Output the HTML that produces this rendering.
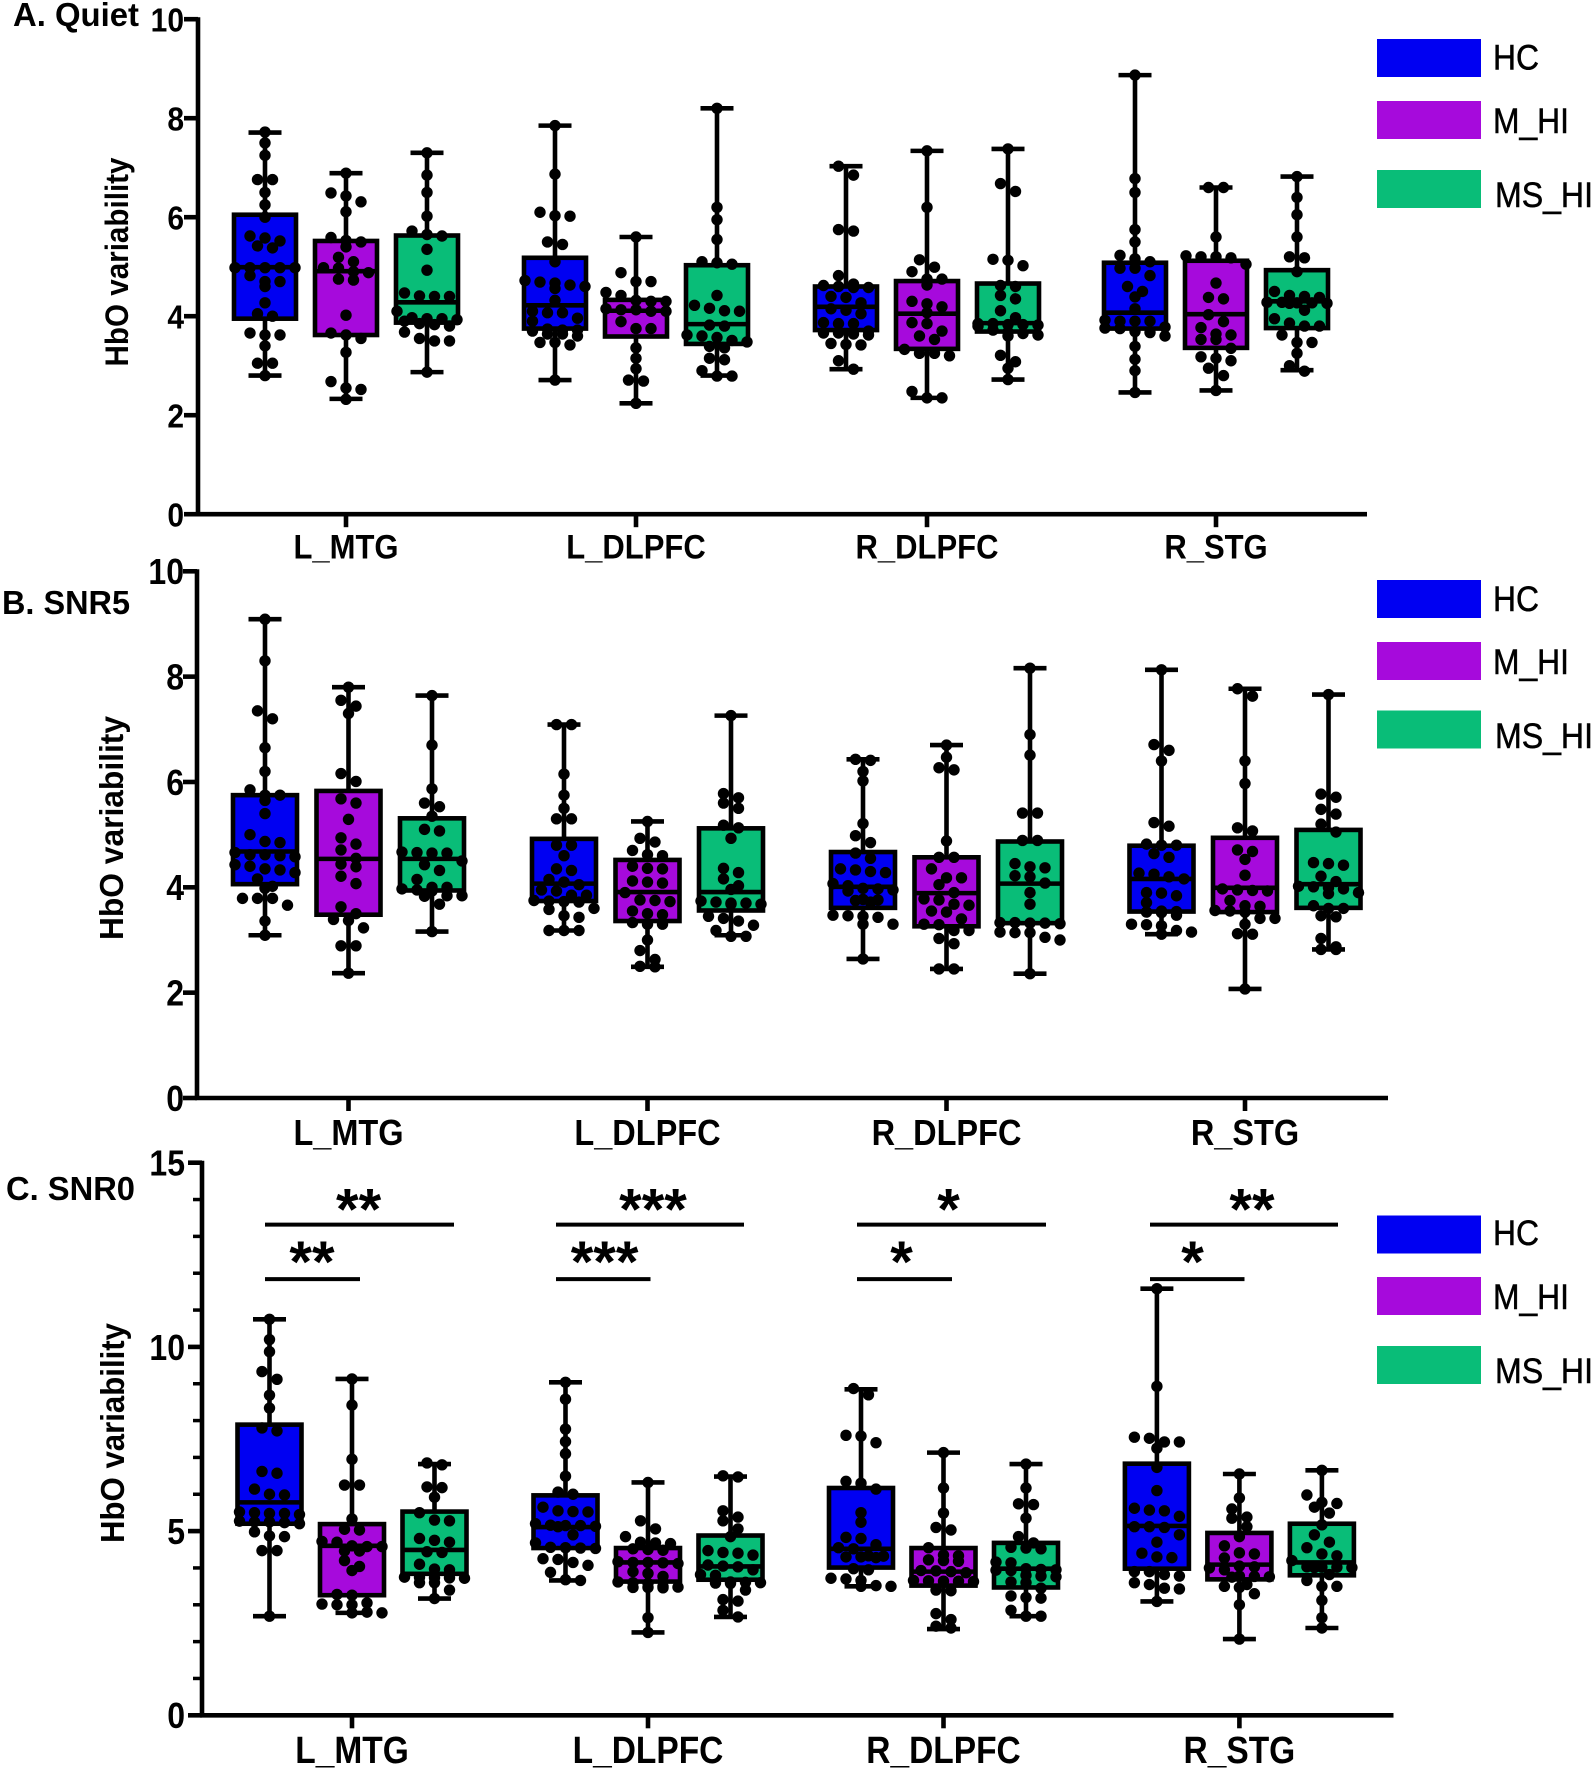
<!DOCTYPE html>
<html lang="en">
<head>
<meta charset="utf-8">
<title>HbO variability by region and hearing group</title>
<style>
html,body{margin:0;padding:0;background:#fff;}
svg{display:block;}
text{font-family:"Liberation Sans",Arial,sans-serif;fill:#000;}
.b{font-weight:700;}
</style>
</head>
<body>
<svg id="chart" xmlns="http://www.w3.org/2000/svg" width="1594" height="1772" viewBox="0 0 1594 1772">
  <rect x="0" y="0" width="1594" height="1772" fill="#fff"/>
  <text class="b" x="13" y="26" font-size="33" textLength="126" lengthAdjust="spacingAndGlyphs">A. Quiet</text>
  <text class="b" x="2" y="614" font-size="33" textLength="128" lengthAdjust="spacingAndGlyphs">B. SNR5</text>
  <text class="b" x="6" y="1200" font-size="33" textLength="129" lengthAdjust="spacingAndGlyphs">C. SNR0</text>

  <text class="b" font-size="32" text-anchor="middle" transform="translate(128 262) rotate(-90)" textLength="209" lengthAdjust="spacingAndGlyphs">HbO variability</text>
  <text class="b" font-size="33" text-anchor="middle" transform="translate(123 828) rotate(-90)" textLength="224" lengthAdjust="spacingAndGlyphs">HbO variability</text>
  <text class="b" font-size="33" text-anchor="middle" transform="translate(124 1433) rotate(-90)" textLength="220" lengthAdjust="spacingAndGlyphs">HbO variability</text>

  <g stroke="#000" stroke-width="0.5">
    <rect x="1377" y="39" width="104" height="38" fill="#0000f2" stroke="none"/>
    <text x="1493" y="69.5" font-size="35" textLength="46" lengthAdjust="spacingAndGlyphs">HC</text>
    <rect x="1377" y="101" width="104" height="38" fill="#a60adc" stroke="none"/>
    <text x="1493" y="133" font-size="35" textLength="76" lengthAdjust="spacingAndGlyphs">M_HI</text>
    <rect x="1377" y="170" width="104" height="38" fill="#09bd78" stroke="none"/>
    <text x="1495" y="207" font-size="35" textLength="98" lengthAdjust="spacingAndGlyphs">MS_HI</text>
  </g>
  <g stroke="#000" stroke-width="0.5">
    <rect x="1377" y="580" width="104" height="38" fill="#0000f2" stroke="none"/>
    <text x="1493" y="611" font-size="35" textLength="46" lengthAdjust="spacingAndGlyphs">HC</text>
    <rect x="1377" y="642" width="104" height="38" fill="#a60adc" stroke="none"/>
    <text x="1493" y="674" font-size="35" textLength="76" lengthAdjust="spacingAndGlyphs">M_HI</text>
    <rect x="1377" y="710.5" width="104" height="38" fill="#09bd78" stroke="none"/>
    <text x="1495" y="748" font-size="35" textLength="98" lengthAdjust="spacingAndGlyphs">MS_HI</text>
  </g>
  <g stroke="#000" stroke-width="0.5">
    <rect x="1377" y="1215.5" width="104" height="38" fill="#0000f2" stroke="none"/>
    <text x="1493" y="1245" font-size="35" textLength="46" lengthAdjust="spacingAndGlyphs">HC</text>
    <rect x="1377" y="1277" width="104" height="38" fill="#a60adc" stroke="none"/>
    <text x="1493" y="1309" font-size="35" textLength="76" lengthAdjust="spacingAndGlyphs">M_HI</text>
    <rect x="1377" y="1346" width="104" height="38" fill="#09bd78" stroke="none"/>
    <text x="1495" y="1383" font-size="35" textLength="98" lengthAdjust="spacingAndGlyphs">MS_HI</text>
  </g>
</svg>
<script>
const regions = ['L_MTG', 'L_DLPFC', 'R_DLPFC', 'R_STG'];
const groups = ['HC', 'M_HI', 'MS_HI'];
const groupColors = ['#0000f2', '#a60adc', '#09bd78'];

const quietTicks = [0, 2, 4, 6, 8, 10];
const quietMin = [2.80, 2.33, 2.87, 2.71, 2.24, 2.80, 2.93, 2.35, 2.72, 2.46, 2.50, 2.91];
const quietQ1 = [3.95, 3.62, 3.87, 3.75, 3.59, 3.44, 3.72, 3.34, 3.69, 3.75, 3.36, 3.76];
const quietMedian = [4.99, 4.91, 4.28, 4.22, 4.11, 3.84, 4.19, 4.05, 3.86, 4.07, 4.04, 4.30];
const quietQ3 = [6.05, 5.52, 5.63, 5.18, 4.33, 5.03, 4.60, 4.71, 4.66, 5.08, 5.12, 4.93];
const quietMax = [7.71, 6.89, 7.30, 7.85, 5.60, 8.20, 7.03, 7.34, 7.38, 8.87, 6.60, 6.82];
const quietPoints = [
  [7.72,7.5,7.25,6.76,6.76,6.5,6.25,6.0,5.62,5.58,5.52,5.42,5.38,4.98,4.98,4.98,4.98,4.98,4.82,4.7,4.7,4.6,4.27,4.05,4.0,3.66,3.62,3.62,3.4,3.05,3.05,2.8],
  [6.89,6.49,6.43,6.31,6.11,5.59,5.53,5.5,5.4,5.19,5.1,4.98,4.97,4.9,4.88,4.75,4.73,4.02,3.66,3.62,3.55,3.27,2.68,2.55,2.52,2.32],
  [7.3,6.85,6.5,6.02,5.72,5.65,5.62,5.35,4.93,4.47,4.41,4.4,4.4,4.1,3.97,3.95,3.95,3.93,3.9,3.85,3.83,3.8,3.68,3.55,3.5,3.5,2.87],
  [7.85,6.87,6.1,6.03,6.02,5.5,5.45,5.1,4.72,4.69,4.67,4.63,4.6,4.56,4.32,4.1,4.07,4.07,3.96,3.9,3.74,3.72,3.72,3.7,3.64,3.64,3.6,3.47,3.47,3.42,2.71],
  [5.6,4.88,4.7,4.7,4.48,4.42,4.32,4.3,4.3,4.15,4.13,4.13,4.1,4.1,3.89,3.75,3.75,3.36,3.15,2.94,2.71,2.69,2.24],
  [8.2,6.2,5.95,5.55,5.1,5.08,5.05,4.42,4.22,4.16,4.11,4.1,3.82,3.8,3.62,3.6,3.57,3.51,3.48,3.39,3.36,3.15,3.12,2.9,2.79,2.79],
  [7.03,6.85,5.75,5.72,4.82,4.65,4.62,4.6,4.58,4.58,4.4,4.38,4.27,4.15,4.12,4.05,3.87,3.85,3.85,3.7,3.66,3.66,3.64,3.62,3.45,3.43,3.42,3.1,2.93],
  [7.34,6.2,5.14,4.99,4.9,4.75,4.75,4.63,4.3,4.25,4.19,4.07,3.87,3.85,3.7,3.6,3.53,3.33,3.25,3.25,3.2,2.48,2.35,2.35],
  [7.38,6.68,6.52,5.15,5.13,5.02,4.62,4.6,4.42,4.35,4.11,3.97,3.85,3.85,3.83,3.83,3.82,3.8,3.72,3.68,3.65,3.62,3.6,3.21,3.08,2.95,2.72],
  [8.87,6.78,6.5,5.75,5.5,5.23,5.16,5.1,4.97,4.97,4.82,4.6,4.5,4.39,4.15,3.92,3.9,3.9,3.9,3.78,3.76,3.75,3.69,3.67,3.6,3.39,3.13,2.9,2.46],
  [6.6,6.6,5.6,5.22,5.2,5.2,5.18,5.05,4.67,4.38,4.35,4.03,3.89,3.77,3.64,3.62,3.53,3.53,3.35,3.18,3.15,3.1,2.95,2.8,2.5],
  [6.82,6.4,6.05,5.6,5.2,5.18,4.9,4.5,4.42,4.4,4.38,4.28,4.28,4.27,4.27,4.26,4.26,4.12,3.95,3.86,3.8,3.8,3.62,3.47,3.47,3.25,3.0,2.89]
];

const snr5Ticks = [0, 2, 4, 6, 8, 10];
const snr5Min = [3.09, 2.37, 3.16, 3.18, 2.49, 3.09, 2.64, 2.45, 2.36, 3.11, 2.07, 2.82];
const snr5Q1 = [4.06, 3.48, 3.94, 3.74, 3.36, 3.56, 3.61, 3.26, 3.32, 3.54, 3.53, 3.61];
const snr5Median = [4.68, 4.54, 4.54, 4.07, 3.91, 3.91, 4.01, 3.89, 4.07, 4.16, 3.99, 4.06];
const snr5Q3 = [5.75, 5.83, 5.31, 4.92, 4.52, 5.12, 4.67, 4.57, 4.87, 4.79, 4.94, 5.09];
const snr5Max = [9.09, 7.80, 7.64, 7.09, 5.25, 7.26, 6.43, 6.70, 8.16, 8.13, 7.77, 7.66];
const snr5Points = [
  [9.09,8.3,7.35,7.2,6.65,6.2,5.85,5.75,5.75,5.65,5.4,5.0,4.87,4.85,4.66,4.62,4.62,4.6,4.58,4.43,4.4,4.35,4.33,4.28,4.16,4.02,3.98,3.79,3.79,3.79,3.66,3.36,3.09],
  [7.8,7.55,7.44,7.3,6.16,6.01,5.68,5.6,5.29,4.94,4.82,4.71,4.55,4.44,4.39,4.21,4.07,3.63,3.5,3.39,3.37,3.23,2.89,2.89,2.37],
  [7.64,6.7,5.87,5.6,5.53,5.35,5.1,5.07,4.67,4.66,4.65,4.65,4.5,4.43,4.32,4.15,4.0,4.0,3.97,3.95,3.93,3.84,3.84,3.83,3.68,3.16],
  [7.09,7.09,6.15,5.75,5.5,5.3,5.3,4.8,4.8,4.6,4.35,4.32,4.15,4.1,4.05,3.95,3.93,3.85,3.85,3.75,3.74,3.73,3.72,3.6,3.58,3.46,3.43,3.18,3.18,3.18],
  [5.25,4.93,4.86,4.7,4.62,4.6,4.4,4.36,4.35,4.12,4.1,4.08,3.9,3.76,3.75,3.73,3.55,3.5,3.48,3.33,3.3,3.3,3.0,2.8,2.63,2.5,2.49],
  [7.26,5.78,5.7,5.6,5.5,5.18,5.13,4.93,4.36,4.28,4.16,4.03,3.96,3.74,3.72,3.7,3.7,3.68,3.68,3.45,3.41,3.36,3.28,3.18,3.07,3.07],
  [6.43,6.41,6.2,6.02,5.21,4.98,4.85,4.65,4.55,4.35,4.33,4.3,4.28,4.07,4.03,3.98,3.97,3.95,3.93,3.77,3.76,3.75,3.72,3.47,3.46,3.45,3.43,3.3,3.3,2.64],
  [6.7,6.47,6.27,6.23,4.88,4.57,4.57,4.35,4.18,4.18,4.05,3.9,3.78,3.76,3.68,3.66,3.55,3.53,3.4,3.3,3.29,3.18,3.18,3.03,2.93,2.45,2.45],
  [8.16,6.9,6.51,5.41,5.41,4.89,4.89,4.45,4.39,4.37,4.22,4.2,4.08,3.9,3.68,3.33,3.33,3.32,3.32,3.31,3.15,3.14,3.14,3.05,3.0,2.36],
  [8.13,6.71,6.6,6.4,5.23,5.16,4.82,4.8,4.8,4.64,4.57,4.27,4.25,4.2,4.16,3.9,3.89,3.84,3.71,3.55,3.54,3.53,3.52,3.47,3.3,3.29,3.27,3.18,3.15,3.11],
  [7.77,7.63,6.4,5.97,5.13,5.07,4.71,4.68,4.53,4.23,3.97,3.95,3.94,3.93,3.75,3.65,3.64,3.56,3.55,3.53,3.41,3.41,3.3,3.12,3.11,2.07],
  [7.66,5.77,5.71,5.48,5.39,5.2,5.05,4.47,4.45,4.42,4.21,4.11,4.02,4.01,3.99,3.97,3.9,3.88,3.65,3.6,3.6,3.46,3.44,3.03,2.87,2.82,2.82]
];

const snr0Ticks = [0, 5, 10, 15];
const snr0MinorTicks = [1, 2, 3, 4, 6, 7, 8, 9, 11, 12, 13, 14];
const snr0Min = [2.69, 2.78, 3.17, 3.66, 2.25, 2.67, 3.50, 2.34, 2.69, 3.09, 2.07, 2.37];
const snr0Q1 = [5.20, 3.26, 3.84, 4.54, 3.63, 3.68, 4.01, 3.52, 3.47, 3.98, 3.69, 3.80];
const snr0Median = [5.78, 4.60, 4.49, 5.11, 4.15, 4.04, 4.52, 3.90, 3.98, 5.14, 4.09, 4.15];
const snr0Q3 = [7.89, 5.19, 5.53, 5.97, 4.54, 4.88, 6.17, 4.54, 4.68, 6.83, 4.95, 5.20];
const snr0Max = [10.75, 9.13, 6.82, 9.04, 6.32, 6.48, 8.85, 7.13, 6.82, 11.58, 6.55, 6.65];
const snr0Points = [
  [10.75,10.2,9.87,9.33,9.12,8.69,8.34,7.8,7.72,6.62,6.57,6.14,6.0,5.98,5.52,5.5,5.48,5.48,5.45,5.27,5.25,5.25,5.23,5.2,4.98,4.87,4.85,4.47,4.47,2.69],
  [9.13,8.42,6.95,6.25,6.25,5.33,5.05,5.03,4.72,4.7,4.6,4.58,4.58,4.46,4.46,4.2,4.04,3.93,3.28,3.26,3.05,3.02,3.0,3.0,2.8,2.78,2.78],
  [6.85,6.8,6.2,6.18,5.92,5.5,5.3,5.28,4.8,4.75,4.7,4.44,4.42,4.1,3.97,3.95,3.75,3.74,3.73,3.73,3.72,3.6,3.6,3.4,3.17],
  [9.04,8.58,7.77,7.43,7.1,6.49,6.06,6.0,5.65,5.55,5.53,5.52,5.2,5.16,5.15,5.15,5.13,5.12,4.9,4.68,4.56,4.55,4.54,4.53,4.25,4.23,4.15,4.07,3.88,3.68,3.66],
  [6.32,5.28,5.06,4.85,4.7,4.68,4.66,4.52,4.5,4.48,4.17,4.15,4.15,4.14,4.12,3.9,3.85,3.77,3.62,3.6,3.58,3.5,3.48,3.47,3.47,3.46,2.65,2.25],
  [6.5,6.47,5.55,5.38,5.28,5.06,4.85,4.47,4.42,4.4,4.35,4.08,4.05,4.03,3.95,3.82,3.8,3.62,3.61,3.6,3.59,3.58,3.4,3.14,3.1,2.85,2.67],
  [8.87,8.7,7.6,7.58,7.4,6.35,6.3,6.14,5.5,5.24,4.83,4.8,4.63,4.55,4.52,4.33,4.32,4.3,4.3,4.28,3.98,3.95,3.72,3.7,3.66,3.52,3.5,3.5],
  [7.13,6.17,5.49,5.1,5.03,4.55,4.35,4.33,4.22,4.2,4.18,3.93,3.92,3.9,3.87,3.66,3.65,3.64,3.64,3.63,3.4,3.38,2.76,2.6,2.42,2.37],
  [6.82,6.17,5.74,5.72,5.35,4.85,4.68,4.56,4.54,4.52,4.16,4.14,3.98,3.96,3.95,3.94,3.93,3.8,3.78,3.76,3.62,3.6,3.45,3.24,3.2,3.18,2.85,2.69,2.69],
  [11.58,8.93,7.55,7.52,7.42,7.42,7.25,6.73,6.1,5.62,5.57,5.55,5.4,5.12,5.12,5.1,4.9,4.7,4.4,4.3,4.28,3.9,3.9,3.82,3.78,3.6,3.55,3.45,3.43,3.09],
  [6.55,5.9,5.6,5.38,5.35,5.12,4.85,4.6,4.41,4.38,4.27,4.05,4.03,4.0,3.95,3.78,3.77,3.76,3.75,3.55,3.5,3.47,3.3,3.0,2.07],
  [6.65,5.98,5.78,5.75,5.65,5.49,5.17,4.9,4.7,4.55,4.38,4.33,4.2,4.03,4.02,4.02,4.01,4.01,3.82,3.66,3.5,3.5,3.12,2.65,2.37]
];

const snr0SigUpperLabels = ['**', '***', '*', '**'];
const snr0SigLowerLabels = ['**', '***', '*', '*'];
const snr0SigUpperLevel = 13.32;
const snr0SigLowerLevel = 11.84;

const SVGNS = 'http://www.w3.org/2000/svg';
const chart = document.getElementById('chart');
const STROKE = 4.6;
const TEXT_STRETCH = 1.12;
const MAX_ROW = 5;

function make(parent, tag, attrs, text) {
  const node = document.createElementNS(SVGNS, tag);
  for (const key in attrs) node.setAttribute(key, attrs[key]);
  if (text !== undefined) node.textContent = text;
  parent.appendChild(node);
  return node;
}

function condense(node) {
  const w = node.getComputedTextLength();
  node.setAttribute('textLength', w / TEXT_STRETCH);
  node.setAttribute('lengthAdjust', 'spacingAndGlyphs');
}

function kebab(s) {
  return s.toLowerCase().replace(/_/g, '-');
}

function swarmOffsets(values, binHeight, step) {
  const sorted = values.slice().sort(function (a, b) { return b - a; });
  const out = [];
  let i = 0;
  while (i < sorted.length) {
    let j = i;
    while (j < sorted.length && j - i < MAX_ROW && sorted[i] - sorted[j] <= binHeight) j++;
    const n = j - i;
    for (let k = 0; k < n; k++) {
      out.push({ value: sorted[i + k], offset: (k - (n - 1) / 2) * step });
    }
    i = j;
  }
  return out;
}

function drawPanel(cfg) {
  const root = make(chart, 'g', {});
  
  

  const yScale = function (v) { return cfg.y0 - (v / cfg.yMax) * (cfg.y0 - cfg.yTop); };
  const xScale = function (regionIndex, groupIndex) {
    return cfg.centers[regionIndex] + (groupIndex - 1) * cfg.groupStep;
  };
  const binHeight = 9 / ((cfg.y0 - cfg.yTop) / cfg.yMax);

  const yAxis = make(root, 'line', { x1: cfg.x0, x2: cfg.x0, y1: yScale(cfg.yMax) - 2, y2: cfg.y0 + 2, stroke: '#000', 'stroke-width': STROKE });
  
  
  const xAxis = make(root, 'line', { x1: cfg.x0 - 2, x2: cfg.xEnd, y1: cfg.y0, y2: cfg.y0, stroke: '#000', 'stroke-width': STROKE });
  
  

  cfg.ticks.forEach(function (t) {
    const tick = make(root, 'line', { x1: cfg.x0 - 14, x2: cfg.x0, y1: yScale(t), y2: yScale(t), stroke: '#000', 'stroke-width': STROKE });
    
    
    const fs = cfg.tickFont * TEXT_STRETCH;
    const label = make(root, 'text', { x: cfg.labelRight, y: yScale(t) + fs * 0.36, 'font-size': fs, 'font-weight': 700, 'text-anchor': 'end' }, String(t));
    condense(label);
    
    
  });
  (cfg.minorTicks || []).forEach(function (t) {
    const tick = make(root, 'line', { x1: cfg.x0 - 9, x2: cfg.x0, y1: yScale(t), y2: yScale(t), stroke: '#000', 'stroke-width': 3.5 });
    
    
  });

  regions.forEach(function (region, r) {
    const tick = make(root, 'line', { x1: cfg.centers[r], x2: cfg.centers[r], y1: cfg.y0, y2: cfg.y0 + 13, stroke: '#000', 'stroke-width': STROKE });
    
    
    const label = make(root, 'text', { x: cfg.centers[r], y: cfg.labelBase, 'font-size': cfg.labelFont * TEXT_STRETCH, 'font-weight': 700, 'text-anchor': 'middle' }, region);
    condense(label);
    
    

    groups.forEach(function (group, g) {
      const idx = r * 3 + g;
      const cx = xScale(r, g);
      const box = make(root, 'g', {});
      
      

      make(box, 'line', { x1: cx, x2: cx, y1: yScale(cfg.max[idx]), y2: yScale(cfg.min[idx]), stroke: '#000', 'stroke-width': STROKE });
      make(box, 'line', { x1: cx - 16.5, x2: cx + 16.5, y1: yScale(cfg.max[idx]), y2: yScale(cfg.max[idx]), stroke: '#000', 'stroke-width': STROKE });
      make(box, 'line', { x1: cx - 16.5, x2: cx + 16.5, y1: yScale(cfg.min[idx]), y2: yScale(cfg.min[idx]), stroke: '#000', 'stroke-width': STROKE });
      make(box, 'rect', {
        x: cx - cfg.boxHalf,
        y: yScale(cfg.q3[idx]),
        width: cfg.boxHalf * 2,
        height: yScale(cfg.q1[idx]) - yScale(cfg.q3[idx]),
        fill: groupColors[g],
        stroke: '#000',
        'stroke-width': STROKE
      });
      make(box, 'line', { x1: cx - cfg.boxHalf, x2: cx + cfg.boxHalf, y1: yScale(cfg.median[idx]), y2: yScale(cfg.median[idx]), stroke: '#000', 'stroke-width': STROKE });

      swarmOffsets(cfg.points[idx], binHeight, 15).forEach(function (p) {
        const dot = make(box, 'circle', { cx: cx + p.offset, cy: yScale(p.value), r: 5.7, fill: '#000' });
        
        
      });
    });
  });

  if (cfg.sig) {
    cfg.sig.forEach(function (s, r) {
      const upper = make(root, 'line', { x1: s.start, x2: s.upperEnd, y1: yScale(snr0SigUpperLevel), y2: yScale(snr0SigUpperLevel), stroke: '#000', 'stroke-width': 4 });
      
      
      const lower = make(root, 'line', { x1: s.start, x2: s.lowerEnd, y1: yScale(snr0SigLowerLevel), y2: yScale(snr0SigLowerLevel), stroke: '#000', 'stroke-width': 4 });
      
      
      const upperStars = make(root, 'text', { x: s.upperStar, y: yScale(snr0SigUpperLevel) + 5, 'font-size': 58, 'font-weight': 700, 'text-anchor': 'middle' }, snr0SigUpperLabels[r]);
      
      
      const lowerStars = make(root, 'text', { x: s.lowerStar, y: yScale(snr0SigLowerLevel) + 3, 'font-size': 58, 'font-weight': 700, 'text-anchor': 'middle' }, snr0SigLowerLabels[r]);
      
      
    });
  }
}

drawPanel({
  name: 'quiet', x0: 198, xEnd: 1367, y0: 514.2, yTop: 19.2, yMax: 10,
  centers: [346, 636, 927, 1216], groupStep: 81, boxHalf: 31,
  ticks: quietTicks, tickFont: 30, labelRight: 184, labelFont: 31, labelBase: 558.5,
  min: quietMin, q1: quietQ1, median: quietMedian, q3: quietQ3, max: quietMax, points: quietPoints
});
drawPanel({
  name: 'snr5', x0: 197, xEnd: 1388, y0: 1098, yTop: 571.3, yMax: 10,
  centers: [348.5, 647.5, 946.5, 1245], groupStep: 83.5, boxHalf: 32,
  ticks: snr5Ticks, tickFont: 32, labelRight: 184, labelFont: 32.5, labelBase: 1145,
  min: snr5Min, q1: snr5Q1, median: snr5Median, q3: snr5Q3, max: snr5Max, points: snr5Points
});
drawPanel({
  name: 'snr0', x0: 202, xEnd: 1393.5, y0: 1715.3, yTop: 1162.7, yMax: 15,
  centers: [352, 648, 943.5, 1239.4], groupStep: 82.5, boxHalf: 32,
  ticks: snr0Ticks, minorTicks: snr0MinorTicks, tickFont: 32, labelRight: 185, labelFont: 33.5, labelBase: 1763,
  min: snr0Min, q1: snr0Q1, median: snr0Median, q3: snr0Q3, max: snr0Max, points: snr0Points,
  sig: [
    { start: 265, upperEnd: 454, lowerEnd: 360, upperStar: 358.6, lowerStar: 312 },
    { start: 556, upperEnd: 744, lowerEnd: 650.5, upperStar: 653, lowerStar: 604.6 },
    { start: 857, upperEnd: 1046, lowerEnd: 952, upperStar: 948.6, lowerStar: 901.6 },
    { start: 1150, upperEnd: 1338, lowerEnd: 1244.5, upperStar: 1252, lowerStar: 1192.5 }
  ]
});
</script>
</body>
</html>
